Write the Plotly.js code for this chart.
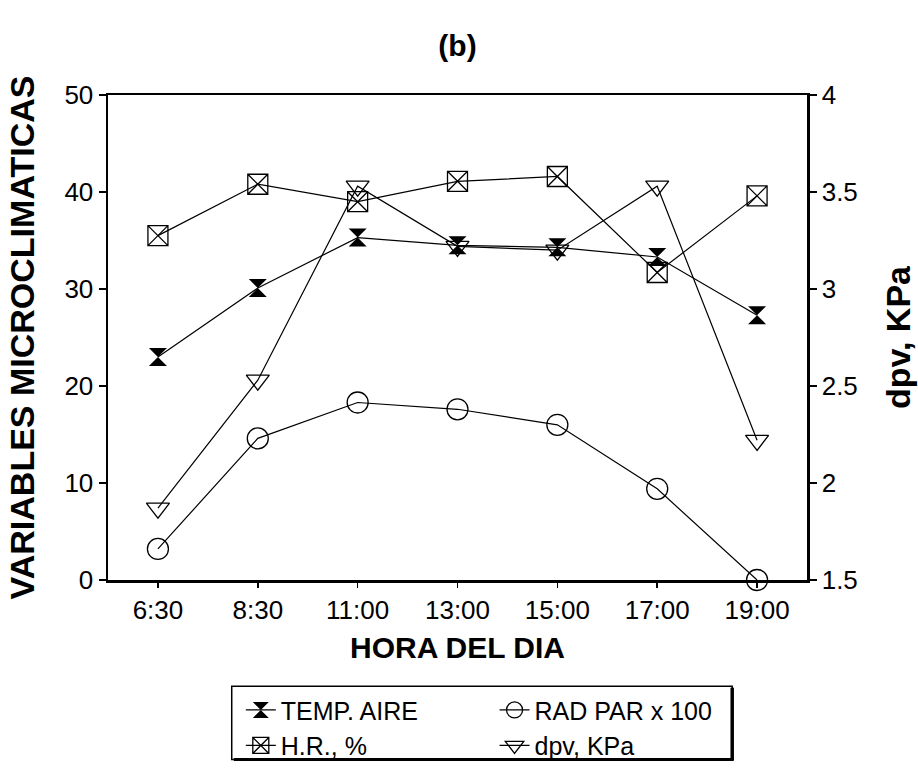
<!DOCTYPE html>
<html><head><meta charset="utf-8">
<script src="https://cdn.plot.ly/plotly-3.0.1.min.js"></script>
<style>html,body{margin:0;padding:0;background:#fff}</style>
</head><body>
<div id="chart" style="width:918px;height:780px"></div>
<script>
// Data
const horas = ['6:30', '8:30', '11:00', '13:00', '15:00', '17:00', '19:00'];
const tempAire = [23.0, 30.1, 35.3, 34.5, 34.3, 33.3, 27.3];
const humRel = [35.5, 40.8, 39.0, 41.1, 41.6, 31.7, 39.6];
const radPar = [3.2, 14.6, 18.3, 17.6, 16.0, 9.4, 0.0];
const dpvKPa = [1.87, 2.53, 3.53, 3.22, 3.20, 3.53, 2.22];
const leftTicks = [0, 10, 20, 30, 40, 50];
const rightTicks = [1.5, 2, 2.5, 3, 3.5, 4];
const rightTickText = ['1.5', '2', '2.5', '3', '3.5', '4'];

const FONT = 'Liberation Sans, Arial, sans-serif';
const lineStyle = {color: '#000', width: 1.2};

const traces = [
  {x: horas, y: tempAire, name: 'TEMP. AIRE', type: 'scatter', mode: 'lines+markers',
   line: lineStyle, marker: {symbol: 'hourglass', size: 18, color: '#000'},
   cliponaxis: false, legend: 'legend'},
  {x: horas, y: humRel, name: 'H.R., %', type: 'scatter', mode: 'lines+markers',
   line: lineStyle, marker: {symbol: 'square-x-open', size: 20, color: '#000', line: {width: 1.3, color: '#000'}},
   cliponaxis: false, legend: 'legend'},
  {x: horas, y: radPar, name: 'RAD PAR x 100', type: 'scatter', mode: 'lines+markers',
   line: lineStyle, marker: {symbol: 'circle-open', size: 21, color: '#000', line: {width: 1.3, color: '#000'}},
   cliponaxis: false, legend: 'legend2'},
  {x: horas, y: dpvKPa, name: 'dpv, KPa', type: 'scatter', mode: 'lines+markers', yaxis: 'y2',
   line: lineStyle, marker: {symbol: 'triangle-down-open', size: 20, color: '#000', line: {width: 1.3, color: '#000'}},
   cliponaxis: false, legend: 'legend2'}
];

const axisCommon = {
  showgrid: false, zeroline: false, showline: true, linecolor: '#000', linewidth: 2.5,
  ticks: 'outside', ticklen: 7, tickwidth: 1.5, tickcolor: '#000',
  tickfont: {family: FONT, size: 26, color: '#000'}
};

const legendCommon = {
  xanchor: 'left', yanchor: 'top', orientation: 'v',
  font: {family: FONT, size: 25, color: '#000'}, bgcolor: 'rgba(0,0,0,0)', borderwidth: 0,
  tracegroupgap: 0, itemwidth: 30
};

const layout = {
  width: 918, height: 780,
  paper_bgcolor: '#fff', plot_bgcolor: '#fff',
  font: {family: FONT, color: '#000'},
  margin: {l: 108, r: 111, t: 95, b: 197},
  title: {text: '<b>(b)</b>', font: {family: FONT, size: 30, color: '#000'},
          x: 0.5, xref: 'paper', xanchor: 'center', y: 1 - 45 / 780, yanchor: 'middle'},
  xaxis: Object.assign({}, axisCommon, {
    type: 'category', range: [-0.5, 6.5], mirror: true, ticklen: 5,
    title: {text: '<b>HORA DEL DIA</b>', font: {family: FONT, size: 30, color: '#000'}, standoff: 14}
  }),
  yaxis: Object.assign({}, axisCommon, {
    range: [0, 50], tickvals: leftTicks, mirror: true,
    title: {text: '<b>VARIABLES MICROCLIMATICAS</b>', font: {family: FONT, size: 34, color: '#000'}, standoff: 20}
  }),
  yaxis2: Object.assign({}, axisCommon, {
    overlaying: 'y', side: 'right', range: [1.5, 4], tickvals: rightTicks, ticktext: rightTickText,
    title: {text: '<b>dpv, KPa</b>', font: {family: FONT, size: 34, color: '#000'}, standoff: 30}
  }),
  legend: Object.assign({x: 0.19, y: -0.221}, legendCommon),
  legend2: Object.assign({x: 0.553, y: -0.221}, legendCommon),
  shapes: [
    {type: 'rect', xref: 'paper', yref: 'paper', x0: 0.177, x1: 0.893, y0: -0.37, y1: -0.219,
     line: {color: '#000', width: 1.5}},
    {type: 'line', xref: 'paper', yref: 'paper', x0: 0.893, x1: 0.893, y0: -0.372, y1: -0.222,
     line: {color: '#000', width: 3.5}},
    {type: 'line', xref: 'paper', yref: 'paper', x0: 0.18, x1: 0.895, y0: -0.37, y1: -0.37,
     line: {color: '#000', width: 3}}
  ],
  showlegend: true
};

Plotly.newPlot('chart', traces, layout, {displayModeBar: false, staticPlot: true});
</script>
</body></html>
